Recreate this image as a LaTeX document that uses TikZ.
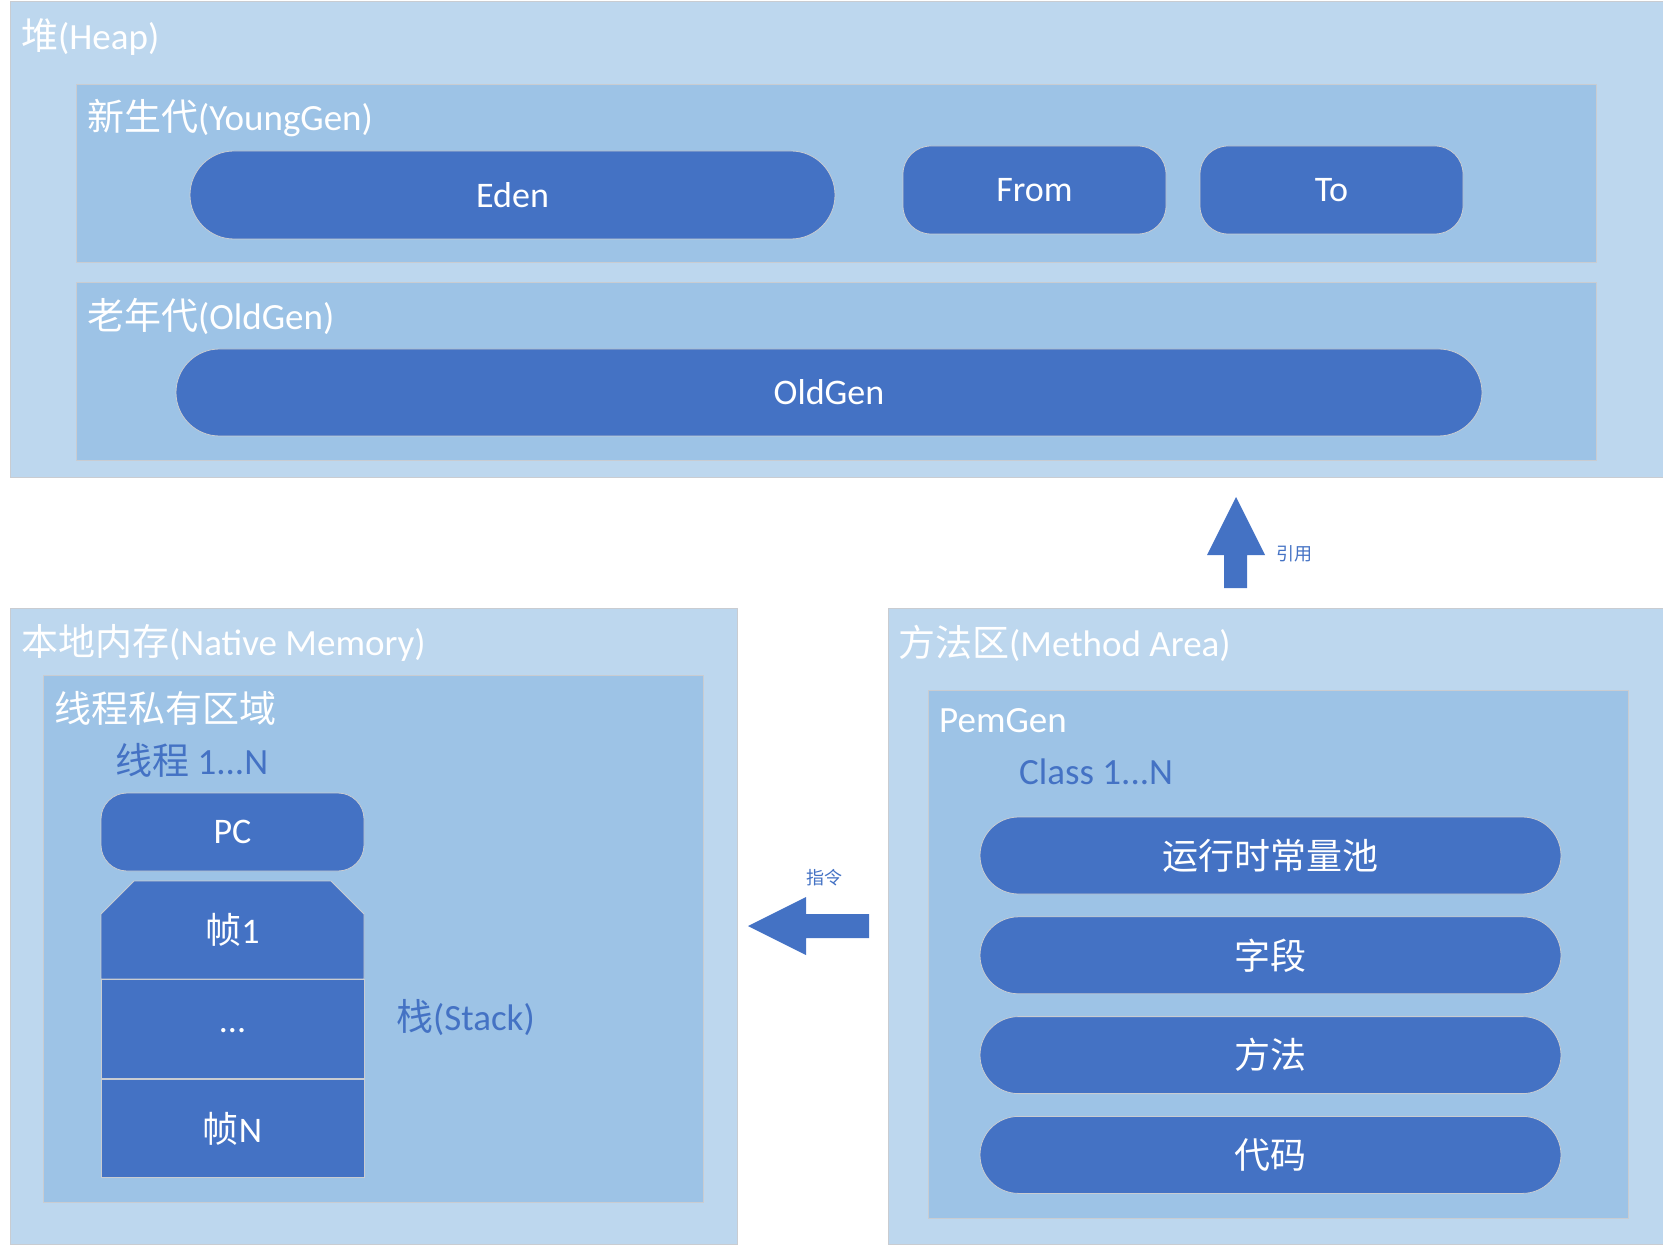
\documentclass[tikz,border=0pt]{standalone}
\usepackage{fontspec}
\setmainfont{Carlito}
\newfontfamily\cjk{Noto Sans CJK SC}
\usetikzlibrary{shapes.misc,positioning}

\definecolor{areablue}{HTML}{BDD7EE}
\definecolor{genblue}{HTML}{9DC3E6}
\definecolor{cellblue}{HTML}{4472C4}
\definecolor{edgegray}{HTML}{C9CCD1}

\tikzset{
  area/.style={draw=edgegray, line width=1pt, fill=areablue, anchor=north west, inner sep=0pt},
  gen/.style={area, fill=genblue},
  pill/.style={rounded rectangle, draw=edgegray, line width=0.8pt, fill=cellblue,
    text=white, inner sep=0pt, font=\fontsize{36}{40}\selectfont},
  tab/.style={pill, rectangle, rounded corners=28pt},
  frame/.style={rectangle, draw=edgegray, line width=0.8pt, fill=cellblue, text=white,
    inner sep=0pt, minimum width=263pt, font=\fontsize{36}{40}\selectfont},
  title/.style={anchor=west, inner sep=0pt, text=white, font=\fontsize{37}{40}\selectfont},
  subtitle/.style={title, text=cellblue},
  hint/.style={anchor=west, inner sep=0pt, text=cellblue, font=\fontsize{18}{20}\selectfont},
}

\begin{document}
\begin{tikzpicture}[x=1pt, y=-1pt]
  \useasboundingbox (0,0) rectangle (1663,1246);

  % Heap
  \node[area, minimum width=1653pt, minimum height=476pt] (heap) at (10,1) {};
  \node[title] (heaplbl) at (21,37) {{\cjk 堆}(Heap)};

  \node[gen, minimum width=1520pt, minimum height=178pt] (young) at (76,84) {};
  \node[title] (younglbl) at (87,118) {{\cjk 新生代}(YoungGen)};
  \node[pill, minimum width=645pt, minimum height=88pt] (eden) at (512.5,195) {Eden};
  \node[tab, minimum width=263pt, minimum height=88pt] (from) at (1034.5,190) {From};
  \node[tab, minimum width=263pt, minimum height=88pt] (to) at (1331.5,190) {To};

  \node[gen, minimum width=1520pt, minimum height=178pt] (old) at (76,282) {};
  \node[title] (oldlbl) at (87,316) {{\cjk 老年代}(OldGen)};
  \node[pill, minimum width=1306pt, minimum height=87pt] (oldgen) at (829,392.5) {OldGen};

  % reference arrow (method area -> heap)
  \coordinate (reftip) at (1236,497);
  \fill[cellblue] (reftip) -- ++(29,58) -- ++(-18,0) -- ++(0,33) -- ++(-23,0)
    -- ++(0,-33) -- ++(-17,0) -- cycle;
  \node[hint] (reflbl) at (1276,554) {\cjk 引用};

  % Native memory
  \node[area, minimum width=727pt, minimum height=636pt] (native) at (10,608) {};
  \node[title] (nativelbl) at (21,643) {{\cjk 本地内存}(Native Memory)};

  \node[gen, minimum width=660pt, minimum height=527pt] (private) at (43,675) {};
  \node[title] (privatelbl) at (54,708) {\cjk 线程私有区域};
  \node[subtitle] (threadlbl) at (115,760) {{\cjk 线程} 1...N};

  \node[tab, rounded corners=26pt, minimum width=263pt, minimum height=78pt] (pc) at (232.5,832) {PC};

  \node[frame, chamfered rectangle, chamfered rectangle corners={north west,north east},
    chamfered rectangle xsep=15pt, chamfered rectangle ysep=18pt,
    minimum height=98pt] (frameone) at (232.5,930) {{\cjk 帧}1};
  \node[frame, minimum height=99pt, below=0pt of frameone] (framedots) {\raisebox{-6pt}{...}};
  \node[frame, minimum height=98pt, below=0pt of framedots] (framen) {{\cjk 帧}N};
  \node[subtitle] (stacklbl) at (396,1018) {{\cjk 栈}(Stack)};

  % instruction arrow (method area -> native memory)
  \coordinate (instip) at (748,926);
  \fill[cellblue] (instip) -- ++(58,-29) -- ++(0,17) -- ++(63,0) -- ++(0,24)
    -- ++(-63,0) -- ++(0,17) -- cycle;
  \node[hint] (inslbl) at (806,878) {\cjk 指令};

  % Method area
  \node[area, minimum width=775pt, minimum height=636pt] (method) at (888,608) {};
  \node[title] (methodlbl) at (898,643) {{\cjk 方法区}(Method Area)};

  \node[gen, minimum width=700pt, minimum height=528pt] (pemgen) at (928,690) {};
  \node[title] (pemgenlbl) at (939,721) {PemGen};
  \node[subtitle] (classlbl) at (1019,772) {Class 1...N};

  \node[pill, minimum width=581pt, minimum height=77pt] (rtpool) at (1270.5,855.5) {\cjk 运行时常量池};
  \node[pill, minimum width=581pt, minimum height=77pt, below=22pt of rtpool] (fields) {\cjk 字段};
  \node[pill, minimum width=581pt, minimum height=77pt, below=22pt of fields] (methods) {\cjk 方法};
  \node[pill, minimum width=581pt, minimum height=77pt, below=22pt of methods] (code) {\cjk 代码};
\end{tikzpicture}
\end{document}
